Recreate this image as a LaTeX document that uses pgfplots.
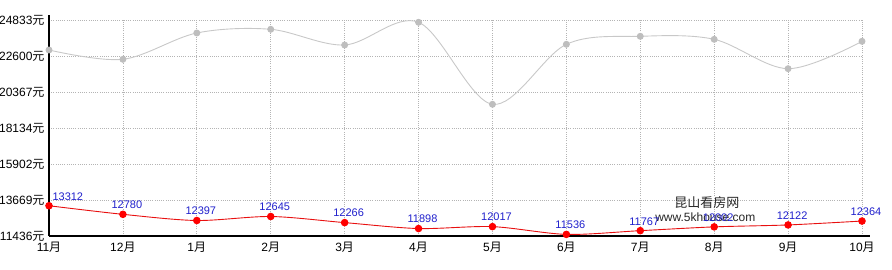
\documentclass[border=0pt]{standalone}
\usepackage{pgfplots}
\pgfplotsset{compat=1.18}
\usepackage{pgfplotstable}
\usepackage{fontspec}
\setmainfont{Liberation Sans}
\newfontfamily\cjk{Noto Sans CJK SC}
\definecolor{gline}{HTML}{C8C8C8}
\definecolor{gmark}{HTML}{BEBEBE}
\definecolor{rline}{HTML}{E81010}
\definecolor{lblue}{HTML}{2020CC}
\definecolor{gridc}{HTML}{B4B4B4}

\pgfplotstableread{
x y lab
0 22972 13312
1 22395 12780
2 24027 12397
3 24256 12645
4 23282 12266
5 24690 11898
6 19604 12017
7 23325 11536
8 23821 11767
9 23635 12002
10 21813 12122
11 23511 12364
}\grey
\pgfplotstableread{
x y lab
0 13312 13312
1 12780 12780
2 12397 12397
3 12645 12645
4 12266 12266
5 11898 11898
6 12017 12017
7 11536 11536
8 11767 11767
9 12002 12002
10 12122 12122
11 12364 12364
}\red
\pgfplotstableread{
x y lab
1 12780 12780
2 12397 12397
3 12645 12645
4 12266 12266
5 11898 11898
6 12017 12017
7 11536 11536
8 11767 11767
9 12002 12002
10 12122 12122
11 12364 12364
}\redrest
\pgfplotstableread{
x y lab
0 13312 13312
}\redfirst

\begin{document}
\begin{tikzpicture}
\useasboundingbox (-49pt,-34pt) rectangle (843pt,236pt);
\begin{axis}[
  at={(0,0)}, anchor=south west,
  scale only axis,
  width=813pt, height=216pt,
  xmin=0, xmax=11, ymin=11436, ymax=24833,
  axis lines=left,
  x axis line style={-, line width=1.1pt, shorten >=-8pt},
  y axis line style={-, line width=1.1pt, shorten >=-5pt},
  scaled y ticks=false,
  scaled x ticks=false,
  xtick={0,...,11},
  xticklabels={11\cjk{月},12\cjk{月},1\cjk{月},2\cjk{月},3\cjk{月},4\cjk{月},5\cjk{月},6\cjk{月},7\cjk{月},8\cjk{月},9\cjk{月},10\cjk{月}},
  ytick={11436,13669,15902,18134,20367,22600,24833},
  yticklabels={11436\cjk{元},13669\cjk{元},15902\cjk{元},18134\cjk{元},20367\cjk{元},22600\cjk{元},24833\cjk{元}},
  major tick length=0pt,
  tick label style={font=\fontsize{12}{14}\selectfont, text=black},
  xticklabel style={yshift=-3pt},
  yticklabel style={xshift=-1pt},
  grid=major,
  grid style={gridc, line width=0.7pt, dash pattern=on 1pt off 1.2pt},
  clip=false,
]
\addplot[gline, line width=0.9pt, smooth, tension=0.55, mark=*, mark size=3pt, mark options={fill=gmark, draw=gmark}] table[x=x,y=y] {\grey};
\addplot[rline, line width=0.9pt, smooth, tension=0.5, mark=*, mark size=3.3pt, mark options={fill=red, draw=red}] table[x=x,y=y] {\red};
\node[font=\cjk\fontsize{13}{15}\selectfont, text=black!85] at (axis cs:8.9,13483) {昆山看房网};
\node[font=\fontsize{12}{14}\selectfont, text=black!85] at (axis cs:8.88,12615) {www.5khouse.com};
\addplot[draw=none, nodes near coords, point meta=explicit symbolic,
  nodes near coords style={font=\fontsize{11}{13}\selectfont, text=lblue, anchor=south, xshift=4pt, yshift=2pt}]
  table[x=x,y=y,meta=lab] {\redrest};
\addplot[draw=none, nodes near coords, point meta=explicit symbolic,
  nodes near coords style={font=\fontsize{11}{13}\selectfont, text=lblue, anchor=south west, xshift=0pt, yshift=2pt}]
  table[x=x,y=y,meta=lab] {\redfirst};
\end{axis}
\end{tikzpicture}
\end{document}
